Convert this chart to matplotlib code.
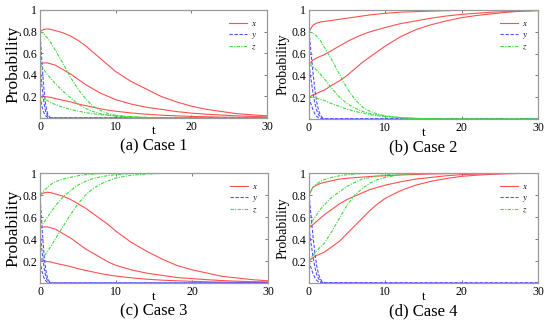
import matplotlib
matplotlib.use("Agg")
import matplotlib.pyplot as plt

plt.rcParams['font.family'] = ['Liberation Serif', 'DejaVu Serif']
plt.rcParams['mathtext.fontset'] = 'stix'

# time grids
t = [0, 0.5, 1, 1.5, 2, 3, 4, 5, 6, 7, 8, 9, 10, 12, 14, 16, 18, 20, 22, 24, 26, 28, 30]
t_y = [0, 0.25, 0.5, 0.75, 1.0, 1.25, 1.5, 1.75, 2.0, 30]

# Case 1
x1_hi = [0.80, 0.82, 0.825, 0.82, 0.81, 0.79, 0.76, 0.72, 0.67, 0.61, 0.55, 0.49, 0.43, 0.34, 0.27, 0.20, 0.15, 0.11, 0.08, 0.06, 0.04, 0.03, 0.02]
x1_mid = [0.50, 0.51, 0.51, 0.50, 0.49, 0.45, 0.41, 0.36, 0.31, 0.27, 0.23, 0.20, 0.17, 0.13, 0.10, 0.08, 0.06, 0.045, 0.035, 0.027, 0.02, 0.015, 0.01]
x1_lo = [0.20, 0.20, 0.195, 0.19, 0.18, 0.165, 0.15, 0.13, 0.115, 0.10, 0.085, 0.073, 0.063, 0.047, 0.035, 0.026, 0.02, 0.015, 0.011, 0.008, 0.006, 0.005, 0.004]
y1_hi = [0.80, 0.52, 0.28, 0.12, 0.04, 0.01, 0, 0, 0, 0]
y1_mid = [0.50, 0.30, 0.15, 0.06, 0.02, 0.005, 0, 0, 0, 0]
y1_lo = [0.20, 0.11, 0.05, 0.02, 0.005, 0, 0, 0, 0, 0]
z1_hi = [0.80, 0.78, 0.74, 0.69, 0.63, 0.51, 0.38, 0.27, 0.18, 0.11, 0.07, 0.04, 0.025, 0.01, 0.004, 0, 0, 0, 0, 0, 0, 0, 0]
z1_mid = [0.50, 0.45, 0.40, 0.36, 0.32, 0.25, 0.19, 0.13, 0.09, 0.06, 0.04, 0.027, 0.018, 0.008, 0.003, 0, 0, 0, 0, 0, 0, 0, 0]
z1_lo = [0.20, 0.18, 0.16, 0.14, 0.125, 0.10, 0.08, 0.065, 0.05, 0.04, 0.03, 0.025, 0.02, 0.012, 0.007, 0.004, 0.002, 0, 0, 0, 0, 0, 0]

# Case 2
x2_hi = [0.80, 0.86, 0.88, 0.89, 0.895, 0.905, 0.915, 0.925, 0.935, 0.945, 0.955, 0.962, 0.97, 0.98, 0.985, 0.99, 0.994, 0.997, 0.998, 0.999, 1, 1, 1]
x2_mid = [0.50, 0.54, 0.56, 0.575, 0.59, 0.63, 0.67, 0.71, 0.745, 0.775, 0.80, 0.82, 0.84, 0.875, 0.90, 0.925, 0.945, 0.96, 0.97, 0.98, 0.985, 0.99, 0.995]
x2_lo = [0.20, 0.22, 0.235, 0.25, 0.265, 0.31, 0.35, 0.40, 0.46, 0.52, 0.57, 0.62, 0.67, 0.755, 0.82, 0.865, 0.90, 0.93, 0.95, 0.965, 0.98, 0.99, 0.995]
y2_hi = [0.80, 0.62, 0.44, 0.28, 0.16, 0.08, 0.035, 0.01, 0.003, 0]
y2_mid = [0.50, 0.37, 0.25, 0.15, 0.08, 0.04, 0.015, 0.005, 0, 0]
y2_lo = [0.20, 0.14, 0.09, 0.05, 0.025, 0.01, 0.004, 0, 0, 0]
z2_hi = [0.80, 0.79, 0.76, 0.72, 0.66, 0.54, 0.41, 0.28, 0.18, 0.11, 0.07, 0.045, 0.03, 0.012, 0.005, 0.002, 0, 0, 0, 0, 0, 0, 0]
z2_mid = [0.50, 0.48, 0.45, 0.41, 0.37, 0.28, 0.20, 0.14, 0.10, 0.07, 0.05, 0.035, 0.025, 0.012, 0.005, 0.002, 0, 0, 0, 0, 0, 0, 0]
z2_lo = [0.20, 0.20, 0.19, 0.18, 0.17, 0.14, 0.115, 0.09, 0.07, 0.055, 0.04, 0.03, 0.022, 0.012, 0.006, 0.003, 0, 0, 0, 0, 0, 0, 0]

# Case 3
x3_hi = [0.80, 0.82, 0.825, 0.82, 0.81, 0.79, 0.76, 0.72, 0.68, 0.63, 0.58, 0.53, 0.47, 0.37, 0.29, 0.22, 0.16, 0.12, 0.09, 0.06, 0.045, 0.03, 0.02]
x3_mid = [0.50, 0.51, 0.51, 0.50, 0.49, 0.45, 0.41, 0.36, 0.31, 0.27, 0.23, 0.19, 0.16, 0.12, 0.09, 0.07, 0.05, 0.04, 0.03, 0.022, 0.016, 0.012, 0.01]
x3_lo = [0.20, 0.20, 0.195, 0.19, 0.18, 0.165, 0.15, 0.13, 0.115, 0.10, 0.085, 0.073, 0.063, 0.047, 0.035, 0.026, 0.02, 0.015, 0.011, 0.008, 0.006, 0.005, 0.004]
y3_hi = [0.80, 0.52, 0.28, 0.12, 0.04, 0.01, 0, 0, 0, 0]
y3_mid = [0.50, 0.30, 0.15, 0.06, 0.02, 0.005, 0, 0, 0, 0]
y3_lo = [0.20, 0.11, 0.05, 0.02, 0.005, 0, 0, 0, 0, 0]
z3_hi = [0.80, 0.84, 0.87, 0.90, 0.92, 0.945, 0.96, 0.975, 0.985, 0.99, 0.995, 0.997, 1, 1, 1, 1, 1, 1, 1, 1, 1, 1, 1]
z3_mid = [0.50, 0.55, 0.60, 0.65, 0.70, 0.78, 0.84, 0.89, 0.925, 0.95, 0.965, 0.978, 0.985, 0.995, 1, 1, 1, 1, 1, 1, 1, 1, 1]
z3_lo = [0.20, 0.24, 0.29, 0.34, 0.40, 0.51, 0.62, 0.72, 0.80, 0.86, 0.90, 0.93, 0.955, 0.98, 0.99, 0.997, 1, 1, 1, 1, 1, 1, 1]

# Case 4
x4_hi = [0.80, 0.87, 0.89, 0.905, 0.915, 0.93, 0.945, 0.952, 0.958, 0.963, 0.968, 0.972, 0.975, 0.982, 0.987, 0.991, 0.994, 0.997, 0.998, 0.999, 1, 1, 1]
x4_mid = [0.50, 0.53, 0.56, 0.59, 0.62, 0.67, 0.72, 0.76, 0.79, 0.82, 0.85, 0.87, 0.89, 0.92, 0.945, 0.96, 0.975, 0.985, 0.99, 0.994, 0.997, 0.999, 1]
x4_lo = [0.20, 0.23, 0.25, 0.265, 0.28, 0.33, 0.38, 0.45, 0.52, 0.59, 0.66, 0.72, 0.77, 0.84, 0.89, 0.925, 0.95, 0.97, 0.98, 0.988, 0.993, 0.997, 1]
y4_hi = [0.80, 0.62, 0.44, 0.28, 0.16, 0.08, 0.035, 0.01, 0.003, 0]
y4_mid = [0.50, 0.37, 0.25, 0.15, 0.08, 0.04, 0.015, 0.005, 0, 0]
y4_lo = [0.20, 0.14, 0.09, 0.05, 0.025, 0.01, 0.004, 0, 0, 0]
z4_hi = [0.80, 0.87, 0.90, 0.925, 0.94, 0.96, 0.975, 0.985, 0.99, 0.995, 0.997, 0.999, 1, 1, 1, 1, 1, 1, 1, 1, 1, 1, 1]
z4_mid = [0.50, 0.57, 0.62, 0.67, 0.71, 0.78, 0.83, 0.88, 0.915, 0.945, 0.96, 0.975, 0.985, 0.995, 1, 1, 1, 1, 1, 1, 1, 1, 1]
z4_lo = [0.20, 0.25, 0.29, 0.33, 0.36, 0.47, 0.59, 0.71, 0.80, 0.86, 0.91, 0.94, 0.96, 0.985, 0.995, 1, 1, 1, 1, 1, 1, 1, 1]

cases = [
    ("(a) Case 1", [x1_hi, x1_mid, x1_lo], [y1_hi, y1_mid, y1_lo], [z1_hi, z1_mid, z1_lo]),
    ("(b) Case 2", [x2_hi, x2_mid, x2_lo], [y2_hi, y2_mid, y2_lo], [z2_hi, z2_mid, z2_lo]),
    ("(c) Case 3", [x3_hi, x3_mid, x3_lo], [y3_hi, y3_mid, y3_lo], [z3_hi, z3_mid, z3_lo]),
    ("(d) Case 4", [x4_hi, x4_mid, x4_lo], [y4_hi, y4_mid, y4_lo], [z4_hi, z4_mid, z4_lo]),
]

# axes boxes in pixels: left, top, right, bottom
W, H = 550, 330
boxes = [(40, 10, 267, 118), (309, 10, 538, 119), (40, 173, 268, 283), (309, 173, 538, 283)]
ylab_size = [12.5, 10, 12.5, 10]

red = '#ff5050'
blue = '#5050ff'
green = '#3ddd3d'

fig = plt.figure(figsize=(W / 100, H / 100), dpi=100)

for i, (title, xs, ys, zs) in enumerate(cases):
    l, tp, r, b = boxes[i]
    ax = fig.add_axes([l / W, 1 - b / H, (r - l) / W, (b - tp) / H])
    for k in range(3):
        ax.plot(t, xs[k], '-', color=red, lw=0.8, label='$x$' if k == 0 else None)
    for k in range(3):
        ax.plot(t_y, ys[k], '--', color=blue, lw=0.8, dashes=(3, 1.5), label='$y$' if k == 0 else None)
    for k in range(3):
        ax.plot(t, zs[k], '-.', color=green, lw=0.8, dashes=(3, 1.2, 1, 1.2), label='$z$' if k == 0 else None)
    ax.set_xlim(0, 30)
    ax.set_ylim(0, 1)
    ax.set_xticks([0, 10, 20, 30])
    ax.set_yticks([0.2, 0.4, 0.6, 0.8, 1])
    ax.set_yticklabels(['0.2', '0.4', '0.6', '0.8', '1'])
    ax.tick_params(direction='in', top=True, right=True, length=2, width=0.6,
                   labelsize=8.5, pad=2, color='#666666')
    for s in ax.spines.values():
        s.set_color('#999999')
        s.set_linewidth(0.9)
    ax.set_ylabel('Probability', fontsize=ylab_size[i], labelpad=1)
    ax.legend(loc='upper right', frameon=False, fontsize=6.5, handlelength=2.0,
              labelspacing=0.25, borderaxespad=0.7, handletextpad=0.4)
    cx = (l + r) / 2 / W
    fig.text(cx, 1 - (b + 13.5) / H, 't', ha='center', va='center', fontsize=9.5)
    fig.text(cx, 1 - (b + 28) / H, title, ha='center', va='center', fontsize=12)

fig.savefig('out.png', dpi=100)
